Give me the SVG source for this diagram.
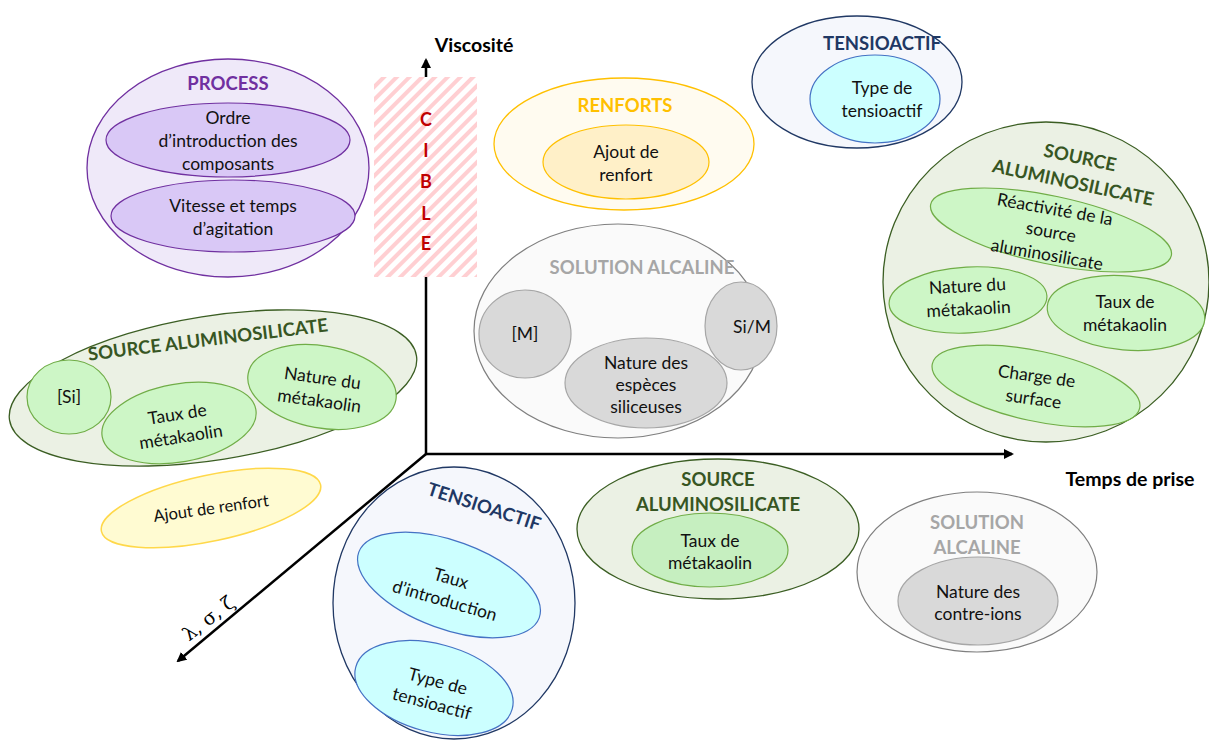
<svg xmlns="http://www.w3.org/2000/svg" width="1209" height="740" viewBox="0 0 1209 740">
<defs>
<style>
text{font-family:Lato,"Open Sans","Liberation Sans",sans-serif;text-anchor:middle}
.t{font-size:17.5px;fill:#111}
.h{font-size:18.5px;font-weight:bold}
.ax{font-size:19.5px;font-weight:bold;fill:#000}
.axis{stroke:#000;stroke-width:2.5;fill:none}
.pO{fill:#efe9f9;stroke:#7030a0;stroke-width:1.3}
.pI{fill:#d9c8f6;stroke:#7030a0;stroke-width:1.2}
.gO{fill:#ebf1e4;stroke:#3b5e23;stroke-width:1.3}
.gI{fill:#cdf6c6;stroke:#70ad47;stroke-width:1.2}
.yO{fill:#fffbf0;stroke:#ffc000;stroke-width:1.3}
.yI{fill:#fff0c8;stroke:#ffc000;stroke-width:1.2}
.yL{fill:#fffbd2;stroke:#ffd84a;stroke-width:1.5}
.bO{fill:#f5f7fc;stroke:#203864;stroke-width:1.3}
.bI{fill:#ccffff;stroke:#4472c4;stroke-width:1.2}
.sO{fill:#fafafa;stroke:#7f7f7f;stroke-width:1.2}
.sI{fill:#d9d9d9;stroke:#a6a6a6;stroke-width:1.2}
.cP{fill:#7030a0}.cG{fill:#375623}.cY{fill:#ffc000}.cB{fill:#203864}.cS{fill:#a6a6a6}
.cib{font-size:18px;font-weight:bold;fill:#c00000}
</style>
<marker id="arr" markerUnits="userSpaceOnUse" markerWidth="10" markerHeight="10" refX="8" refY="5" orient="auto">
<path d="M0,0 L10,5 L0,10 z" fill="#000"/>
</marker>
<pattern id="hatch" patternUnits="userSpaceOnUse" width="9" height="9" patternTransform="rotate(45)">
<rect width="9" height="9" fill="#fff"/>
<rect width="4" height="9" fill="#ffcfd2"/>
</pattern>
</defs>

<g id="connectors">
<line class="axis" x1="426" y1="455" x2="426" y2="60" marker-end="url(#arr)"/>
<line class="axis" x1="425" y1="454" x2="1012" y2="454" marker-end="url(#arr)"/>
<line class="axis" x1="426" y1="454" x2="178" y2="661" marker-end="url(#arr)"/>
</g>
<g id="axis-labels">
<text class="ax" x="474" y="52">Viscosité</text>
<text class="ax" x="1130" y="486">Temps de prise</text>
<text x="208" y="625" transform="rotate(-38 208 618)" style="font-family:'DejaVu Serif','Liberation Serif',serif;font-size:19px;fill:#000">λ, σ, ζ</text>
</g>

<g id="cible">
<rect x="374" y="77" width="103" height="200" fill="url(#hatch)"/>
<text class="cib" x="426" y="126">C</text>
<text class="cib" x="426" y="157">I</text>
<text class="cib" x="426" y="188">B</text>
<text class="cib" x="426" y="220">L</text>
<text class="cib" x="426" y="250">E</text>
</g>

<g id="process">
<ellipse class="pO" cx="228" cy="168" rx="141" ry="109"/>
<text class="h cP" x="228" y="90">PROCESS</text>
<ellipse class="pI" cx="228" cy="140" rx="122" ry="37"/>
<text class="t" x="228" y="124">Ordre</text>
<text class="t" x="228" y="147">d’introduction des</text>
<text class="t" x="228" y="170">composants</text>
<ellipse class="pI" cx="233" cy="216" rx="122" ry="36"/>
<text class="t" x="233" y="212">Vitesse et temps</text>
<text class="t" x="233" y="235">d’agitation</text>
</g>

<g id="source-left">
<ellipse class="gO" cx="213" cy="388" rx="206" ry="72" transform="rotate(-9 213 388)"/>
<text class="h cG" x="208" y="346" transform="rotate(-7 208 340)">SOURCE ALUMINOSILICATE</text>
<ellipse class="gI" cx="69" cy="397" rx="42" ry="37"/>
<text class="t" x="69" y="403">[Si]</text>
<ellipse class="gI" cx="179" cy="423" rx="78" ry="39" transform="rotate(-10 179 423)"/>
<g transform="rotate(-9 179 425)">
<text class="t" x="179" y="420">Taux de</text>
<text class="t" x="179" y="443">métakaolin</text>
</g>
<ellipse class="gI" cx="322" cy="387" rx="75" ry="41" transform="rotate(10 322 387)"/>
<g transform="rotate(8 321 389)">
<text class="t" x="321" y="384">Nature du</text>
<text class="t" x="321" y="407">métakaolin</text>
</g>
</g>

<g id="renfort-left">
<ellipse class="yL" cx="211" cy="508" rx="112" ry="33" transform="rotate(-12 211 508)"/>
<text class="t" x="211" y="514" style="font-size:16.5px" transform="rotate(-8 211 508)">Ajout de renfort</text>
</g>

<g id="tensioactif-bottom">
<ellipse class="bO" cx="454" cy="603" rx="121" ry="136"/>
<text class="h cB" x="484" y="513" transform="rotate(18 484 507)">TENSIOACTIF</text>
<ellipse class="bI" cx="449" cy="585" rx="96" ry="44" transform="rotate(20 449 585)"/>
<g transform="rotate(16 448 589)">
<text class="t" x="448" y="584">Taux</text>
<text class="t" x="448" y="607">d’introduction</text>
</g>
<ellipse class="bI" cx="434" cy="688" rx="81" ry="44" transform="rotate(15 434 688)"/>
<g transform="rotate(15 435 692)">
<text class="t" x="435" y="687">Type de</text>
<text class="t" x="435" y="710">tensioactif</text>
</g>
</g>

<g id="renforts">
<ellipse class="yO" cx="624" cy="144" rx="130" ry="66"/>
<text class="h cY" x="625" y="112">RENFORTS</text>
<ellipse class="yI" cx="626" cy="162" rx="83" ry="37"/>
<text class="t" x="626" y="158">Ajout de</text>
<text class="t" x="626" y="181">renfort</text>
</g>

<g id="tensioactif-top">
<ellipse class="bO" cx="857" cy="82" rx="105" ry="66"/>
<text class="h cB" x="882" y="50">TENSIOACTIF</text>
<ellipse class="bI" cx="875" cy="99" rx="65" ry="44"/>
<text class="t" x="882" y="94">Type de</text>
<text class="t" x="882" y="117">tensioactif</text>
</g>

<g id="solution-middle">
<ellipse class="sO" cx="618" cy="331" rx="144" ry="107"/>
<text class="h cS" x="642" y="274">SOLUTION ALCALINE</text>
<ellipse class="sI" cx="525" cy="334" rx="46" ry="44"/>
<text class="t" x="525" y="340">[M]</text>
<ellipse class="sI" cx="646" cy="383" rx="81" ry="45"/>
<text class="t" x="646" y="369">Nature des</text>
<text class="t" x="646" y="391">espèces</text>
<text class="t" x="646" y="413">siliceuses</text>
<ellipse class="sI" cx="741" cy="326" rx="36" ry="44"/>
<text class="t" x="752" y="333">Si/M</text>
</g>

<g id="source-right">
<ellipse class="gO" cx="1046" cy="282" rx="163" ry="160"/>
<text class="h cG" x="1080" y="164" transform="rotate(12 1080 158)">SOURCE</text>
<text class="h cG" x="1073" y="189" transform="rotate(12 1073 183)">ALUMINOSILICATE</text>
<ellipse class="gI" cx="1051" cy="230" rx="123" ry="34" transform="rotate(12 1051 230)"/>
<g transform="rotate(10 1051 232)">
<text class="t" x="1051" y="215">Réactivité de la</text>
<text class="t" x="1051" y="238">source</text>
<text class="t" x="1051" y="261">aluminosilicate</text>
</g>
<ellipse class="gI" cx="968" cy="300" rx="79" ry="33" transform="rotate(-3 968 300)"/>
<g transform="rotate(-3 968 298)">
<text class="t" x="968" y="292">Nature du</text>
<text class="t" x="968" y="315">métakaolin</text>
</g>
<ellipse class="gI" cx="1126" cy="313" rx="79" ry="37" transform="rotate(5 1126 313)"/>
<text class="t" x="1125" y="308">Taux de</text>
<text class="t" x="1125" y="331">métakaolin</text>
<ellipse class="gI" cx="1036" cy="386" rx="106" ry="35" transform="rotate(12 1036 386)"/>
<g transform="rotate(8 1035 388)">
<text class="t" x="1035" y="382">Charge de</text>
<text class="t" x="1035" y="405">surface</text>
</g>
</g>

<g id="source-bottom">
<ellipse class="gO" cx="718" cy="529" rx="141" ry="70"/>
<text class="h cG" x="718" y="486">SOURCE</text>
<text class="h cG" x="718" y="511">ALUMINOSILICATE</text>
<ellipse class="gI" cx="710" cy="550" rx="78" ry="37" style="fill:#c6efc0"/>
<text class="t" x="710" y="547">Taux de</text>
<text class="t" x="710" y="569">métakaolin</text>
</g>

<g id="solution-bottom">
<ellipse class="sO" cx="977" cy="572" rx="120" ry="80"/>
<text class="h cS" x="977" y="529">SOLUTION</text>
<text class="h cS" x="977" y="554">ALCALINE</text>
<ellipse class="sI" cx="978" cy="601" rx="80" ry="44"/>
<text class="t" x="978" y="598">Nature des</text>
<text class="t" x="978" y="620">contre-ions</text>
</g>
</svg>
